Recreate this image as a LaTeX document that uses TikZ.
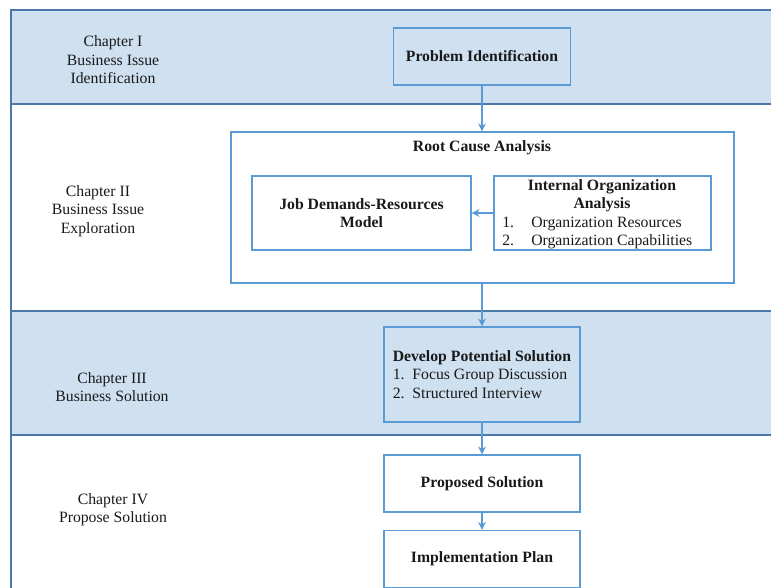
\documentclass[tikz,border=0pt]{standalone}
\usepackage{fontspec}
\setmainfont{Liberation Serif}
\usetikzlibrary{arrows.meta}
\definecolor{bandfill}{HTML}{CFE0F1}
\definecolor{bandline}{HTML}{4A78A8}
\definecolor{boxline}{HTML}{5B9BD5}
\begin{document}
\begin{tikzpicture}[x=0.75pt,y=-0.75pt,
  every node/.style={font=\fontsize{11.8}{13.8}\selectfont, text=black!90},
  box/.style={draw=boxline, line width=0.9pt, fill=white, inner sep=0pt},
  lbl/.style={align=center, inner sep=0pt},
  arr/.style={draw=boxline, line width=0.9pt, -{Stealth[length=6pt,width=6pt]}},
  bandrule/.style={draw=bandline, line width=1.3pt}]
\useasboundingbox (0,0) rectangle (771,588);
\clip (0,0) rectangle (771,588);
% bands
\fill[bandfill] (11,10) rectangle (790,104);
\fill[bandfill] (11,311) rectangle (790,435);
\draw[bandrule] (790,10) -- (11,10) -- (11,600);
\draw[bandrule] (11,104) -- (790,104);
\draw[bandrule] (11,311) -- (790,311);
\draw[bandrule] (11,435) -- (790,435);
% chapter labels
\node[lbl] (c1) at (113,60) {Chapter I\\Business Issue\\Identification};
\node[lbl] (c2) at (98,211) {Chapter II\\Business Issue\\Exploration};
\node[lbl] (c3) at (112,387) {Chapter III\\Business Solution};
\node[lbl] (c4) at (113,510) {Chapter IV\\Propose Solution};
% boxes
\node[box, fill=bandfill, minimum width={177*0.75pt}, minimum height={57*0.75pt}, font=\fontsize{11.8}{13.8}\selectfont\bfseries] (prob) at (482,56.5) {Problem Identification};
\node[box, minimum width={503*0.75pt}, minimum height={151*0.75pt}] (root) at (482.5,207.5) {};
\node[lbl, font=\fontsize{11.8}{13.8}\selectfont\bfseries] (roott) at (482,148) {Root Cause Analysis};
\node[box, minimum width={219*0.75pt}, minimum height={74*0.75pt}, align=center, font=\fontsize{11.8}{13.8}\selectfont\bfseries] (jdr) at (361.5,213) {Job Demands-Resources\\Model};
\node[box, minimum width={217*0.75pt}, minimum height={74*0.75pt}] (ioa) at (602.5,213) {};
\node[lbl, font=\fontsize{11.8}{13.8}\selectfont\bfseries] (ioat) at (602,196) {Internal Organization\\Analysis};
\node[lbl, align=left, anchor=west] (ioal) at (502,233) {\makebox[21.75pt][l]{1.}Organization Resources\\\makebox[21.75pt][l]{2.}Organization Capabilities};
\node[box, fill=bandfill, minimum width={196*0.75pt}, minimum height={95*0.75pt}] (dev) at (482,374.5) {};
\node[lbl, align=left, anchor=west] (devt) at (392.5,374.5) {\textbf{Develop Potential Solution}\\1.\ \ Focus Group Discussion\\2.\ \ Structured Interview};
\node[box, minimum width={196*0.75pt}, minimum height={57*0.75pt}, font=\fontsize{11.8}{13.8}\selectfont\bfseries] (prop) at (482,483.5) {Proposed Solution};
\node[box, minimum width={196*0.75pt}, minimum height={57*0.75pt}, font=\fontsize{11.8}{13.8}\selectfont\bfseries] (impl) at (482,559) {Implementation Plan};
% connectors
\draw[arr] (prob.south) -- (root.north -| prob.south);
\draw[arr] (ioa.west) -- (jdr.east);
\draw[arr] (root.south -| dev.north) -- (dev.north);
\draw[arr] (dev.south) -- (prop.north);
\draw[arr] (prop.south) -- (impl.north);
\end{tikzpicture}
\end{document}
